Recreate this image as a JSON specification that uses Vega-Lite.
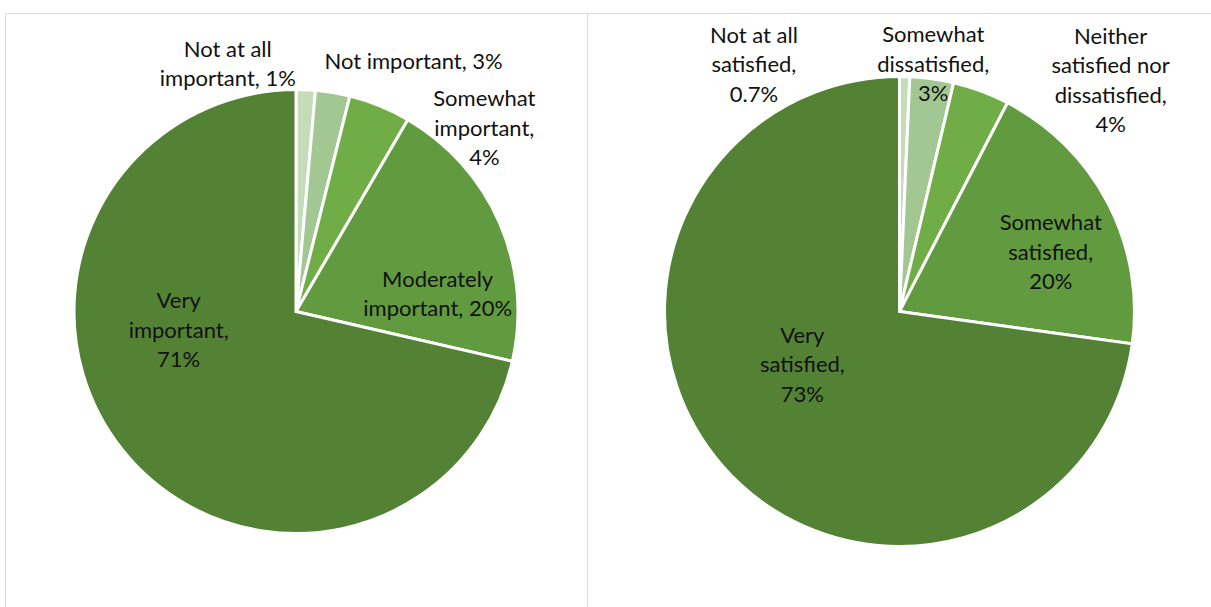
{
  "$schema": "https://vega.github.io/schema/vega-lite/v6.json",
  "padding": {"left": 4, "top": 10, "right": 0, "bottom": 0},
  "background": "white",
  "spacing": 0,
  "bounds": "flush",
  "config": {
    "view": {"stroke": "#d9d9d9", "strokeWidth": 1},
    "text": {"font": "Lato", "fontSize": 22, "lineHeight": 29.5, "lineBreak": "\n", "color": "#111111", "align": "center", "baseline": "middle"}
  },
  "datasets": {
    "importance": [
      {"category": "Not at all important", "rank": 1, "value": 1.4, "label": "Not at all\nimportant, 1%"},
      {"category": "Not important", "rank": 2, "value": 2.5, "label": "Not important, 3%"},
      {"category": "Somewhat important", "rank": 3, "value": 4.5, "label": "Somewhat\nimportant,\n4%"},
      {"category": "Moderately important", "rank": 4, "value": 20.2, "label": "Moderately\nimportant, 20%"},
      {"category": "Very important", "rank": 5, "value": 71.4, "label": "Very\nimportant,\n71%"}
    ],
    "satisfaction": [
      {"category": "Not at all satisfied", "rank": 1, "value": 0.7, "label": "Not at all\nsatisfied,\n0.7%"},
      {"category": "Somewhat dissatisfied", "rank": 2, "value": 3.0, "label": "Somewhat\ndissatisfied,\n3%"},
      {"category": "Neither satisfied nor dissatisfied", "rank": 3, "value": 3.9, "label": "Neither\nsatisfied nor\ndissatisfied,\n4%"},
      {"category": "Somewhat satisfied", "rank": 4, "value": 19.6, "label": "Somewhat\nsatisfied,\n20%"},
      {"category": "Very satisfied", "rank": 5, "value": 72.8, "label": "Very\nsatisfied,\n73%"}
    ]
  },
  "hconcat": [
    {
      "width": 582,
      "height": 597,
      "view": {"stroke": "#d9d9d9", "strokeWidth": 1},
      "data": {"name": "importance"},
      "encoding": {
        "theta": {"field": "value", "type": "quantitative", "stack": true},
        "order": {"field": "rank", "type": "quantitative"}
      },
      "layer": [
        {
          "mark": {"type": "arc", "outerRadius": 222, "stroke": "white", "strokeWidth": 3},
          "encoding": {
            "color": {
              "field": "category", "type": "nominal", "legend": null,
              "scale": {
                "domain": ["Not at all important", "Not important", "Somewhat important", "Moderately important", "Very important"],
                "range": ["#c4ddb8", "#a3c792", "#70ad47", "#629b3f", "#548235"]
              }
            }
          }
        },
        {
          "mark": {"type": "text", "radius": 245, "dx": -79, "dy": -17},
          "encoding": {"text": {"condition": {"test": "datum.category === 'Not at all important'", "field": "label"}, "value": ""}}
        },
        {
          "mark": {"type": "text", "radius": 245, "dx": 77, "dy": -8},
          "encoding": {"text": {"condition": {"test": "datum.category === 'Not important'", "field": "label"}, "value": ""}}
        },
        {
          "mark": {"type": "text", "radius": 245, "dx": 96, "dy": 14.5},
          "encoding": {"text": {"condition": {"test": "datum.category === 'Somewhat important'", "field": "label"}, "value": ""}}
        },
        {
          "mark": {"type": "text", "radius": 150, "dx": 4, "dy": 28},
          "encoding": {"text": {"condition": {"test": "datum.category === 'Moderately important'", "field": "label"}, "value": ""}}
        },
        {
          "mark": {"type": "text", "radius": 150, "dx": 0, "dy": -103.5},
          "encoding": {"text": {"condition": {"test": "datum.category === 'Very important'", "field": "label"}, "value": ""}}
        }
      ]
    },
    {
      "width": 625,
      "height": 597,
      "view": {"stroke": "#d9d9d9", "strokeWidth": 1},
      "data": {"name": "satisfaction"},
      "encoding": {
        "theta": {"field": "value", "type": "quantitative", "stack": true},
        "order": {"field": "rank", "type": "quantitative"}
      },
      "layer": [
        {
          "mark": {"type": "arc", "outerRadius": 235, "stroke": "white", "strokeWidth": 3},
          "encoding": {
            "color": {
              "field": "category", "type": "nominal", "legend": null,
              "scale": {
                "domain": ["Not at all satisfied", "Somewhat dissatisfied", "Neither satisfied nor dissatisfied", "Somewhat satisfied", "Very satisfied"],
                "range": ["#c4ddb8", "#a3c792", "#70ad47", "#629b3f", "#548235"]
              }
            }
          }
        },
        {
          "mark": {"type": "text", "radius": 245, "dx": -151, "dy": -31},
          "encoding": {"text": {"condition": {"test": "datum.category === 'Not at all satisfied'", "field": "label"}, "value": ""}}
        },
        {
          "mark": {"type": "text", "radius": 245, "dx": 0, "dy": -33.5},
          "encoding": {"text": {"condition": {"test": "datum.category === 'Somewhat dissatisfied'", "field": "label"}, "value": ""}}
        },
        {
          "mark": {"type": "text", "radius": 245, "dx": 126, "dy": -45},
          "encoding": {"text": {"condition": {"test": "datum.category === 'Neither satisfied nor dissatisfied'", "field": "label"}, "value": ""}}
        },
        {
          "mark": {"type": "text", "radius": 150, "dx": 18, "dy": -19.5},
          "encoding": {"text": {"condition": {"test": "datum.category === 'Somewhat satisfied'", "field": "label"}, "value": ""}}
        },
        {
          "mark": {"type": "text", "radius": 150, "dx": 16, "dy": -74},
          "encoding": {"text": {"condition": {"test": "datum.category === 'Very satisfied'", "field": "label"}, "value": ""}}
        }
      ]
    }
  ]
}
